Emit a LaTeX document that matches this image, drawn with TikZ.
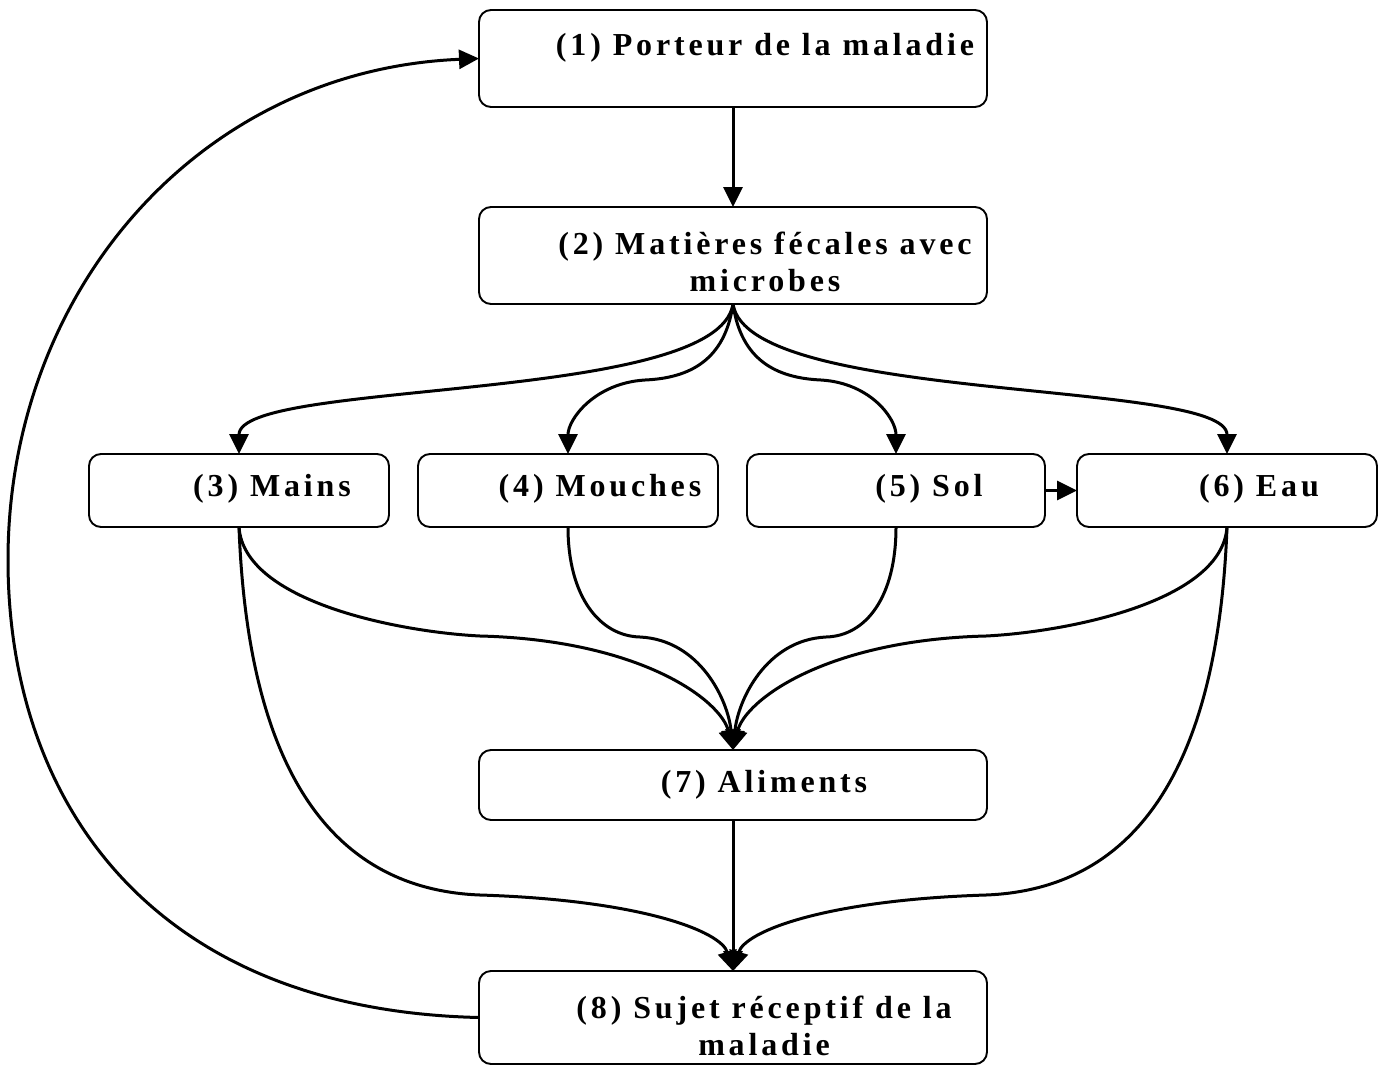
\documentclass[tikz,border=0pt]{standalone}
\usepackage{fontspec}
\setmainfont{Liberation Serif}
\newfontfamily\lblfont[LetterSpace=12]{Liberation Serif}
\usetikzlibrary{arrows.meta}
\begin{document}
\begin{tikzpicture}[x=1pt,y=-1pt,
  box/.style={draw, line width=1.9pt, rounded corners=12pt, inner sep=0pt, outer sep=0pt},
  lbl/.style={font=\lblfont\bfseries\fontsize{32}{37}\selectfont, inner sep=0pt, align=center},
  conn/.style={line width=3pt, -{Triangle[length=20pt,width=19pt]}}
]
\useasboundingbox (0,0) rectangle (1381,1065);
% boxes
\node[box, minimum width=508pt, minimum height=97pt] (b1) at (733,58.5) {};
\node[box, minimum width=508pt, minimum height=97pt] (b2) at (733,255.5) {};
\node[box, minimum width=300pt, minimum height=73pt] (b3) at (239,490.5) {};
\node[box, minimum width=300pt, minimum height=73pt] (b4) at (568,490.5) {};
\node[box, minimum width=298pt, minimum height=73pt] (b5) at (896,490.5) {};
\node[box, minimum width=300pt, minimum height=73pt] (b6) at (1227,490.5) {};
\node[box, minimum width=508pt, minimum height=70pt] (b7) at (733,785) {};
\node[box, minimum width=508pt, minimum height=93pt] (b8) at (733,1017.5) {};
% labels
\node[lbl] (t1) at (765,48) {(1) Porteur de la maladie};
\node[lbl] (t2) at (765,261.5) {(2) Matières fécales avec\\microbes};
\node[lbl] (t3) at (272,489) {(3) Mains};
\node[lbl] (t4) at (600,489) {(4) Mouches};
\node[lbl] (t5) at (929,489) {(5) Sol};
\node[lbl] (t6) at (1259,489) {(6) Eau};
\node[lbl] (t7) at (764,785) {(7) Aliments};
\node[lbl] (t8) at (764,1026) {(8) Sujet réceptif de la\\maladie};
% connectors
\draw[conn] (b1.south) -- (b2.north);
\draw[conn] (b2.south) .. controls +(-15,100) and +(0,-75) .. (b3.north);
\draw[conn] (b2.south) .. controls +(15,100) and +(0,-75) .. (b6.north);
\draw[conn] (b2.south) .. controls +(-8,56) and (690,378) .. (645,380) .. controls (595,383) and +(0,-35) .. (b4.north);
\draw[conn] (b2.south) .. controls +(8,56) and (776,378) .. (821,380) .. controls (871,383) and +(0,-35) .. (b5.north);
\draw[conn] (b5.east) -- (b6.west);
\draw[conn] (b3.south) .. controls +(5,75) and (400,632) .. (480,636) .. controls (640,640) and +(-12,-50) .. (b7.north);
\draw[conn] (b4.south) .. controls +(0,70) and (600,636) .. (640,637) .. controls (700,640) and +(-5,-50) .. (b7.north);
\draw[conn] (b5.south) .. controls +(0,70) and (866,636) .. (826,637) .. controls (766,640) and +(5,-50) .. (b7.north);
\draw[conn] (b6.south) .. controls +(-5,75) and (1066,632) .. (986,636) .. controls (826,640) and +(12,-50) .. (b7.north);
\draw[conn] (b3.south) .. controls +(10,270) and (350,890) .. (480,895) .. controls (640,900) and +(-12,-40) .. (b8.north);
\draw[conn] (b6.south) .. controls +(-10,270) and (1116,890) .. (986,895) .. controls (826,900) and +(12,-40) .. (b8.north);
\draw[conn] (b7.south) -- (b8.north);
\draw[conn] (b8.west) .. controls (150,1010) and (8,800) .. (8,560) .. controls (8,290) and (200,70) .. (b1.west);
\end{tikzpicture}
\end{document}
